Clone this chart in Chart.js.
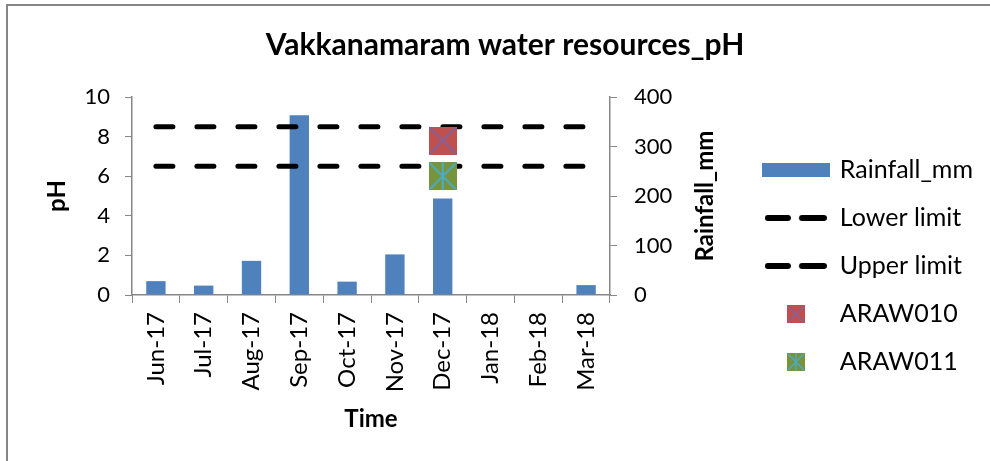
<!DOCTYPE html>
<html>
<head>
<meta charset="utf-8">
<script src="https://cdn.jsdelivr.net/npm/chart.js@4.4.0/dist/chart.umd.min.js"></script>
<style>
  html, body { margin: 0; padding: 0; background: #fff; }
  canvas { display: block; }
</style>
</head>
<body>
<canvas id="phChart" width="990" height="461"></canvas>
<script>
// Data
const months = ['Jun-17', 'Jul-17', 'Aug-17', 'Sep-17', 'Oct-17', 'Nov-17', 'Dec-17', 'Jan-18', 'Feb-18', 'Mar-18'];
const rainfallMm = [28, 19, 69, 363, 27, 82, 195, 0, 0, 20];
const lowerLimit = [6.5, 6.5, 6.5, 6.5, 6.5, 6.5, 6.5, 6.5, 6.5, 6.5];
const upperLimit = [8.5, 8.5, 8.5, 8.5, 8.5, 8.5, 8.5, 8.5, 8.5, 8.5];
const araw010 = [null, null, null, null, null, null, 7.8, null, null, null];
const araw011 = [null, null, null, null, null, null, 6.0, null, null, null];
const phTicks = [0, 2, 4, 6, 8, 10];
const rainTicks = [0, 100, 200, 300, 400];

const chartTitle = 'Vakkanamaram water resources_pH';
const FONT = 'Lato';
const AXIS_GREY = '#868686';
const BLUE = '#4F81BD';
const PLOT_RIGHT = 610;   // where the right axis sits

// Square marker with X (or star) drawn on it
function makeMarker(size, fill, stroke, star) {
    const c = document.createElement('canvas');
    c.width = size; c.height = size;
    const g = c.getContext('2d');
    g.fillStyle = fill;
    g.fillRect(0, 0, size, size);
    g.strokeStyle = stroke;
    g.lineWidth = size > 20 ? 2 : 1.5;
    g.beginPath();
    g.moveTo(1, 1); g.lineTo(size - 1, size - 1);
    g.moveTo(size - 1, 1); g.lineTo(1, size - 1);
    if (star) { g.moveTo(size / 2, 0); g.lineTo(size / 2, size); }
    g.stroke();
    return c;
}

function makeRect(w, h, fill) {
    const c = document.createElement('canvas');
    c.width = w; c.height = h;
    const g = c.getContext('2d');
    g.fillStyle = fill;
    g.fillRect(0, 0, w, h);
    return c;
}

function makeDash(w, h) {
    const c = document.createElement('canvas');
    c.width = w; c.height = h;
    const g = c.getContext('2d');
    g.strokeStyle = '#000';
    g.lineWidth = h;
    g.lineCap = 'round';
    const r = h / 2;
    g.beginPath();
    g.moveTo(r, r); g.lineTo(w * 0.42 - r, r);
    g.moveTo(w * 0.55 + r, r); g.lineTo(w - r, r);
    g.stroke();
    return c;
}

const marker010 = makeMarker(28, '#C0504D', '#8064A2', false);
const marker011 = makeMarker(28, '#77933C', '#4BACC6', true);
const legendIcons = [
    makeRect(68, 14, BLUE),
    makeDash(62, 6),
    makeDash(62, 6),
    makeMarker(18, '#C0504D', '#8064A2', false),
    makeMarker(18, '#77933C', '#4BACC6', true)
];

// Frame (top and left edge), chart title, and the right axis title (reads bottom-to-top)
const framePlugin = {
    id: 'frame',
    beforeDraw(chart) {
        const ctx = chart.ctx;
        ctx.save();
        ctx.strokeStyle = AXIS_GREY;
        ctx.lineWidth = 2;
        ctx.beginPath();
        ctx.moveTo(7, chart.height);
        ctx.lineTo(7, 5);
        ctx.lineTo(chart.width, 5);
        ctx.stroke();
        ctx.restore();
    },
    afterDraw(chart) {
        const ctx = chart.ctx;
        ctx.save();
        ctx.fillStyle = '#000';
        ctx.textAlign = 'center';
        ctx.textBaseline = 'middle';
        ctx.font = 'bold 30px ' + FONT;
        ctx.fillText(chartTitle, 505, 45);

        const s = chart.scales.y1;
        ctx.translate(s.left + 95, (s.top + s.bottom) / 2);
        ctx.rotate(-Math.PI / 2);
        ctx.font = 'bold 24px ' + FONT;
        ctx.fillText('Rainfall_mm', 0, 0);
        ctx.restore();
    }
};

const titleFont = { family: FONT, size: 24, weight: 'bold' };

new Chart(document.getElementById('phChart').getContext('2d'), {
    data: {
        labels: months,
        datasets: [
            {
                type: 'bar',
                label: 'Rainfall_mm',
                data: rainfallMm,
                yAxisID: 'y1',
                backgroundColor: BLUE,
                borderWidth: 0,
                barPercentage: 0.405,
                categoryPercentage: 1,
                order: 3
            },
            {
                type: 'line',
                label: 'Lower limit',
                data: lowerLimit,
                yAxisID: 'y',
                borderColor: '#000',
                borderWidth: 5,
                borderDash: [17, 24],
                borderCapStyle: 'round',
                pointRadius: 0,
                fill: false,
                order: 2
            },
            {
                type: 'line',
                label: 'Upper limit',
                data: upperLimit,
                yAxisID: 'y',
                borderColor: '#000',
                borderWidth: 5,
                borderDash: [17, 24],
                borderCapStyle: 'round',
                pointRadius: 0,
                fill: false,
                order: 2
            },
            {
                type: 'line',
                label: 'ARAW010',
                data: araw010,
                yAxisID: 'y',
                showLine: false,
                pointStyle: marker010,
                pointRadius: 14,
                order: 1
            },
            {
                type: 'line',
                label: 'ARAW011',
                data: araw011,
                yAxisID: 'y',
                showLine: false,
                pointStyle: marker011,
                pointRadius: 14,
                order: 1
            }
        ]
    },
    options: {
        responsive: false,
        animation: false,
        devicePixelRatio: 1,
        layout: { padding: { left: 0, right: 7, top: 97, bottom: 0 } },
        plugins: {
            tooltip: { enabled: false },
            title: { display: false },
            legend: {
                position: 'right',
                align: 'start',
                maxWidth: 320,
                title: { display: true, text: ' ', color: 'rgba(0,0,0,0)', font: { size: 10 }, padding: { top: 25.5, bottom: 0 } },
                labels: {
                    usePointStyle: true,
                    pointStyleWidth: 63,
                    padding: 23,
                    color: '#000',
                    font: { family: FONT, size: 25 },
                    generateLabels: chart => chart.data.datasets.map((ds, i) => ({
                        text: ds.label,
                        datasetIndex: i,
                        pointStyle: legendIcons[i],
                        fillStyle: 'rgba(0,0,0,0)',
                        strokeStyle: 'rgba(0,0,0,0)',
                        lineWidth: 0,
                        hidden: false,
                        fontColor: '#000'
                    }))
                }
            }
        },
        scales: {
            x: {
                type: 'category',
                offset: true,
                grid: { display: true, drawOnChartArea: false, offset: true, tickLength: 8, color: AXIS_GREY },
                border: { color: AXIS_GREY, width: 1.5 },
                ticks: { minRotation: 90, maxRotation: 90, autoSkip: false, padding: 9, color: '#000', font: { family: FONT, size: 24 } },
                title: { display: true, text: 'Time', color: '#000', font: titleFont, padding: { top: 0, bottom: 27 } },
                afterFit: s => { s.height = 166; }
            },
            y: {
                position: 'left',
                min: 0,
                max: 10,
                afterBuildTicks: s => { s.ticks = phTicks.map(v => ({ value: v })); },
                grid: { drawOnChartArea: false, tickLength: 7, color: AXIS_GREY },
                border: { color: AXIS_GREY, width: 1.5 },
                ticks: { padding: 15, color: '#000', font: { family: FONT, size: 22 } },
                title: { display: true, text: 'pH', color: '#000', font: titleFont, padding: { top: 43, bottom: 0 } },
                afterFit: s => { s.width = 132; }
            },
            y1: {
                position: 'right',
                min: 0,
                max: 400,
                afterBuildTicks: s => { s.ticks = rainTicks.map(v => ({ value: v })); },
                grid: { drawOnChartArea: false, tickLength: 7, color: AXIS_GREY },
                border: { color: AXIS_GREY, width: 1.5 },
                ticks: { padding: 17, color: '#000', font: { family: FONT, size: 22 } },
                afterFit: s => { s.width = s.chart.width - 7 - s.chart.legend.width - PLOT_RIGHT; }
            }
        }
    },
    plugins: [framePlugin]
});
</script>
</body>
</html>
